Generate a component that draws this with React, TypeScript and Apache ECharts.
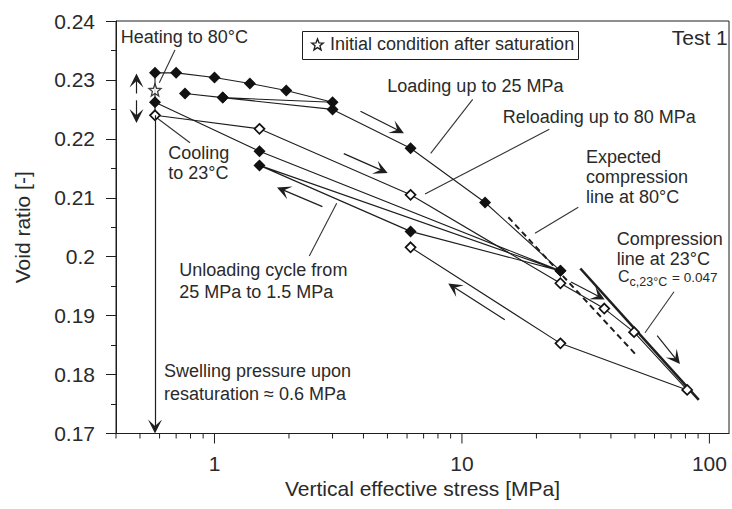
import React, { useEffect, useRef } from 'react';
import * as echarts from 'echarts';

const FONT = '"Liberation Sans", Arial, Helvetica, sans-serif';
const INK = '#1e1e1e';
const TXT = '#2a2a2a';

// Vertical effective stress [MPa] / void ratio [-]
// Filled diamonds (80 °C path)
const filledX = [0.575, 0.7, 1.0, 1.39, 1.95, 3.0, 1.08, 0.76, 1.08, 3.0, 6.2, 12.4, 25, 6.2, 1.52, 25, 1.52, 0.575];
const filledY = [0.2312, 0.2312, 0.2304, 0.2294, 0.2282, 0.2262, 0.227, 0.2277, 0.227, 0.225, 0.2184, 0.2092, 0.1976, 0.2043, 0.2155, 0.1976, 0.2179, 0.2262];
// Open diamonds (23 °C path)
const openX = [0.575, 1.52, 6.2, 25, 37.6, 49.6, 81.3, 25, 6.2];
const openY = [0.224, 0.2217, 0.2105, 0.1955, 0.1912, 0.1872, 0.1774, 0.1853, 0.2016];
// Initial condition after saturation
const initX = [0.575];
const initY = [0.2283];
// Heating / cooling vertical path
const tempX = [0.575, 0.575];
const tempY = [0.2312, 0.224];
// Expected compression line at 80 °C
const exp80X = [15.4, 50.4];
const exp80Y = [0.2067, 0.1834];
// Compression line at 23 °C
const comp23X = [30.1, 90.6];
const comp23Y = [0.198, 0.1757];
// Axis ticks
const xMajorTicks = [1, 10, 100];
const xMinorTicks = [0.4, 0.5, 0.6, 0.7, 0.8, 0.9, 2, 3, 4, 5, 6, 7, 8, 9, 20, 30, 40, 50, 60, 70, 80, 90];
const yMin = 0.17;
const yMax = 0.24;
const yStep = 0.01;

// Direction arrows [from, to] in data space
const arrows: number[][][] = [
  [[3.89, 0.2247], [5.5, 0.2215]],
  [[3.33, 0.2175], [4.72, 0.2147]],
  [[2.73, 0.2085], [1.9, 0.2113]],
  [[14.9, 0.1893], [9.3, 0.1948]],
  [[27.6, 0.1957], [35.6, 0.1933]],
  [[61.5, 0.1866], [73.0, 0.1827]],
  [[0.484, 0.2277], [0.484, 0.2299]],
  [[0.484, 0.22654], [0.484, 0.2239]],
  [[0.575, 0.224], [0.575, 0.1712]],
];

const zip = (xs: number[], ys: number[]) => xs.map((x, i) => [x, ys[i]]);

function starPoints(cx: number, cy: number, R: number, r: number): number[][] {
  const pts: number[][] = [];
  for (let k = 0; k < 10; k++) {
    const a = (-90 + k * 36) * Math.PI / 180;
    const rad = k % 2 === 0 ? R : r;
    pts.push([cx + rad * Math.cos(a), cy + rad * Math.sin(a)]);
  }
  return pts;
}
const STAR_PATH = 'path://' + starPoints(10, 10, 10, 4.3).map((p, i) => (i === 0 ? 'M' : 'L') + p[0].toFixed(2) + ',' + p[1].toFixed(2)).join('') + 'Z';
const ARROW = 'path://M5,0L10,13L5,7L0,13Z';

function txt(text: string, x: number, y: number, size = 18, extra: any = {}) {
  return {
    type: 'text', x, y, silent: true,
    style: { text, fill: TXT, fontSize: size, fontFamily: FONT, align: 'left', verticalAlign: 'middle', textAlign: 'left', textVerticalAlign: 'middle', ...extra },
  };
}
function seg(x1: number, y1: number, x2: number, y2: number) {
  return { type: 'line', silent: true, shape: { x1, y1, x2, y2 }, style: { stroke: '#333', lineWidth: 1.1 } };
}

export default function App() {
  const ref = useRef<HTMLDivElement>(null);
  useEffect(() => {
    document.body.style.margin = '0';
    const chart = echarts.init(ref.current!, undefined, { renderer: 'svg' });
    const option: any = {
      animation: false,
      backgroundColor: '#fff',
      grid: { left: 116, right: -1, top: 21, bottom: 75.5, show: true, borderColor: INK, borderWidth: 1 },
      xAxis: {
        type: 'log', logBase: 10, min: 0.4, max: 120,
        axisLine: { show: true, lineStyle: { color: INK, width: 1 } },
        axisTick: { show: false }, minorTick: { show: false },
        splitLine: { show: false }, minorSplitLine: { show: false },
        axisLabel: {
          color: TXT, fontSize: 21, fontFamily: FONT, margin: 19,
          formatter: (v: number) => {
            const l = Math.log10(v);
            return Math.abs(l - Math.round(l)) < 1e-6 && xMajorTicks.indexOf(Math.round(v)) >= 0 ? String(Math.round(v)) : '';
          },
        },
        name: 'Vertical effective stress [MPa]', nameLocation: 'middle', nameGap: 44,
        nameTextStyle: { color: TXT, fontSize: 21, fontFamily: FONT },
      },
      yAxis: {
        type: 'value', min: yMin, max: yMax, interval: yStep,
        axisLine: { show: true, lineStyle: { color: INK, width: 1 } },
        axisTick: { show: true, length: 10, lineStyle: { color: INK } },
        minorTick: { show: true, splitNumber: 2, length: 5, lineStyle: { color: INK } },
        splitLine: { show: false }, minorSplitLine: { show: false },
        axisLabel: { color: TXT, fontSize: 21, fontFamily: FONT, margin: 21, formatter: (v: number) => parseFloat(v.toFixed(3)).toString() },
        name: 'Void ratio [-]', nameLocation: 'middle', nameGap: 83,
        nameTextStyle: { color: TXT, fontSize: 21, fontFamily: FONT },
      },
      series: [
        {
          type: 'custom', coordinateSystem: 'cartesian2d', silent: true, clip: false,
          data: [...xMinorTicks.map((v) => [v, yMin, 5]), ...xMajorTicks.map((v) => [v, yMin, 10])],
          encode: { x: 0, y: 1 },
          renderItem: (params: any, api: any) => {
            const p = api.coord([api.value(0), api.value(1)]);
            return { type: 'line', shape: { x1: p[0], y1: p[1], x2: p[0], y2: p[1] + api.value(2) }, style: { stroke: INK, lineWidth: 1 } };
          },
        },
        {
          type: 'line', data: zip(tempX, tempY), symbol: 'none', silent: true,
          lineStyle: { color: INK, width: 1.1 },
        },
        {
          type: 'line', data: zip(exp80X, exp80Y), symbol: 'none', silent: true,
          lineStyle: { color: INK, width: 2, type: [6, 4] },
        },
        {
          type: 'line', data: zip(comp23X, comp23Y), symbol: 'none', silent: true,
          lineStyle: { color: INK, width: 2.6 },
        },
        {
          type: 'line', data: zip(filledX, filledY), symbol: 'diamond', symbolSize: 12, silent: true,
          itemStyle: { color: '#111' }, lineStyle: { color: INK, width: 1.1 },
        },
        {
          type: 'line', data: zip(openX, openY), symbol: 'diamond', symbolSize: 10, silent: true, z: 3,
          itemStyle: { color: '#fff', borderColor: '#111', borderWidth: 1.7 }, lineStyle: { color: INK, width: 1.1 },
          markLine: {
            silent: true, animation: false, symbol: ['none', ARROW], symbolSize: 14,
            label: { show: false }, emphasis: { disabled: true },
            lineStyle: { color: INK, width: 1.2, type: 'solid' },
            data: arrows.map((a) => [{ coord: a[0] }, { coord: a[1] }]),
          },
        },
        {
          type: 'scatter', data: zip(initX, initY), symbol: STAR_PATH, symbolSize: 12, silent: true, z: 4,
          itemStyle: { color: '#fff', borderColor: '#111', borderWidth: 1.3 },
        },
      ],
      graphic: [
        { type: 'rect', silent: true, shape: { x: 302.5, y: 31.5, width: 276, height: 28 }, style: { fill: '#fff', stroke: INK, lineWidth: 1 } },
        { type: 'polygon', silent: true, shape: { points: starPoints(317.5, 45, 6, 2.6) }, style: { fill: '#fff', stroke: INK, lineWidth: 1.4 } },
        txt('Initial condition after saturation', 330, 43.8),
        txt('Test 1', 671.7, 37.7, 21),
        txt('Heating to 80°C', 120.7, 37.1),
        txt('Cooling', 168.3, 153.1),
        txt('to 23°C', 168.3, 173.1),
        txt('Unloading cycle from', 179.3, 269.8),
        txt('25 MPa to 1.5 MPa', 179.3, 292.1),
        txt('Swelling pressure upon', 164, 371.1),
        txt('resaturation ≈ 0.6 MPa', 164, 393.8),
        txt('Loading up to 25 MPa', 387.3, 86.3),
        txt('Reloading up to 80 MPa', 502.7, 117.1),
        txt('Expected', 586, 156.5),
        txt('compression', 586, 177.1),
        txt('line at 80°C', 586, 196.5),
        txt('Compression', 616.7, 238.8),
        txt('line at 23°C', 616.7, 258.8),
        txt('C', 618, 276.5, 16),
        txt('c,23°C', 629.5, 281.5, 12.5),
        txt('= 0.047', 672, 277, 13.5),
        seg(175, 50, 159.3, 82.7),
        seg(156, 117.3, 190, 142.7),
        seg(472.7, 99.3, 430.7, 153.3),
        seg(549.3, 129.3, 425, 194),
        seg(578.3, 207.3, 535, 233.3),
        seg(674, 291.7, 645, 332.7),
        seg(336.7, 203.3, 309.3, 256),
      ],
    };
    chart.setOption(option);
    return () => chart.dispose();
  }, []);
  return <div ref={ref} style={{ width: 732, height: 509 }} />;
}
